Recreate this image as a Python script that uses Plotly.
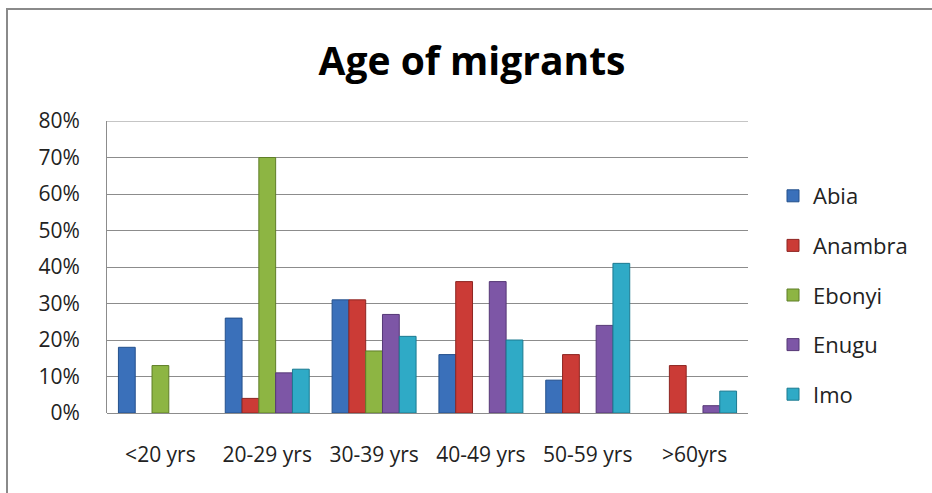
import plotly.graph_objects as go

categories = ["<20 yrs", "20-29 yrs", "30-39 yrs", "40-49 yrs", "50-59 yrs", ">60yrs"]
series_names = ["Abia", "Anambra", "Ebonyi", "Enugu", "Imo"]
abia = [18, 26, 31, 16, 9, None]
anambra = [None, 4, 31, 36, 16, 13]
ebonyi = [13, 70, 17, None, None, None]
enugu = [None, 11, 27, 36, 24, 2]
imo = [None, 12, 21, 20, 41, 6]
y_ticks = [0, 10, 20, 30, 40, 50, 60, 70, 80]
y_tick_labels = ["0%", "10%", "20%", "30%", "40%", "50%", "60%", "70%", "80%"]

values = [abia, anambra, ebonyi, enugu, imo]
fills = ["#3A70BA", "#CB3B36", "#8DB543", "#7D56A6", "#2FAAC6"]
edges = ["#24508C", "#8E2622", "#5F7E28", "#553876", "#1C7A90"]

W, H = 932, 493
L, R, T, B = 107, 184, 121, 80
pw, ph = W - L - R, H - T - B

fig = go.Figure()
for i, (name, vals) in enumerate(zip(series_names, values)):
    fig.add_trace(go.Bar(
        x=categories, y=vals, name=name, legendgroup=name,
        marker=dict(color=fills[i], line=dict(color=edges[i], width=1)),
    ))

fig.update_layout(
    width=W, height=H,
    margin=dict(l=L, r=R, t=T, b=B),
    paper_bgcolor="white", plot_bgcolor="white",
    barmode="group", bargap=0.214, bargroupgap=0,
    font=dict(family="Open Sans", color="#222222"),
    title=dict(text="<b>Age of migrants</b>", x=472 / W, xanchor="center",
               y=1 - 61 / H, yanchor="middle",
               font=dict(family="Open Sans", size=39, color="#000000")),
    legend=dict(x=(773 - L) / pw, xanchor="left", y=(413 - 295) / ph, yanchor="middle",
                font=dict(size=22, color="#222222"), tracegroupgap=18,
                bgcolor="rgba(0,0,0,0)"),
    showlegend=True,
)
fig.update_xaxes(showgrid=False, showline=False, ticks="", tickfont=dict(size=21),
                 ticklabelstandoff=27)
fig.update_yaxes(range=[0, 80], tickmode="array", tickvals=y_ticks, ticktext=y_tick_labels,
                 showgrid=True, gridcolor="#8c8c8c", gridwidth=1,
                 showline=True, linecolor="#8c8c8c", linewidth=1,
                 zeroline=True, zerolinecolor="#8c8c8c", zerolinewidth=1,
                 tickfont=dict(size=21), ticks="", ticklabelstandoff=22)

# top gridline at the last tick
fig.add_shape(type="line", xref="paper", yref="y", x0=0, x1=1,
              y0=y_ticks[-1], y1=y_ticks[-1],
              line=dict(color="#8c8c8c", width=1))

# outer chart border
fig.add_shape(type="rect", xref="paper", yref="paper",
              x0=(7 - L) / pw, x1=(W + 20 - L) / pw,
              y0=(413 - (H + 20)) / ph, y1=(413 - 9) / ph,
              line=dict(color="#8a8a8a", width=2), fillcolor="rgba(0,0,0,0)")

fig.write_html("out.html", config={"displayModeBar": False},
               post_script="document.body.style.margin='0px';")
